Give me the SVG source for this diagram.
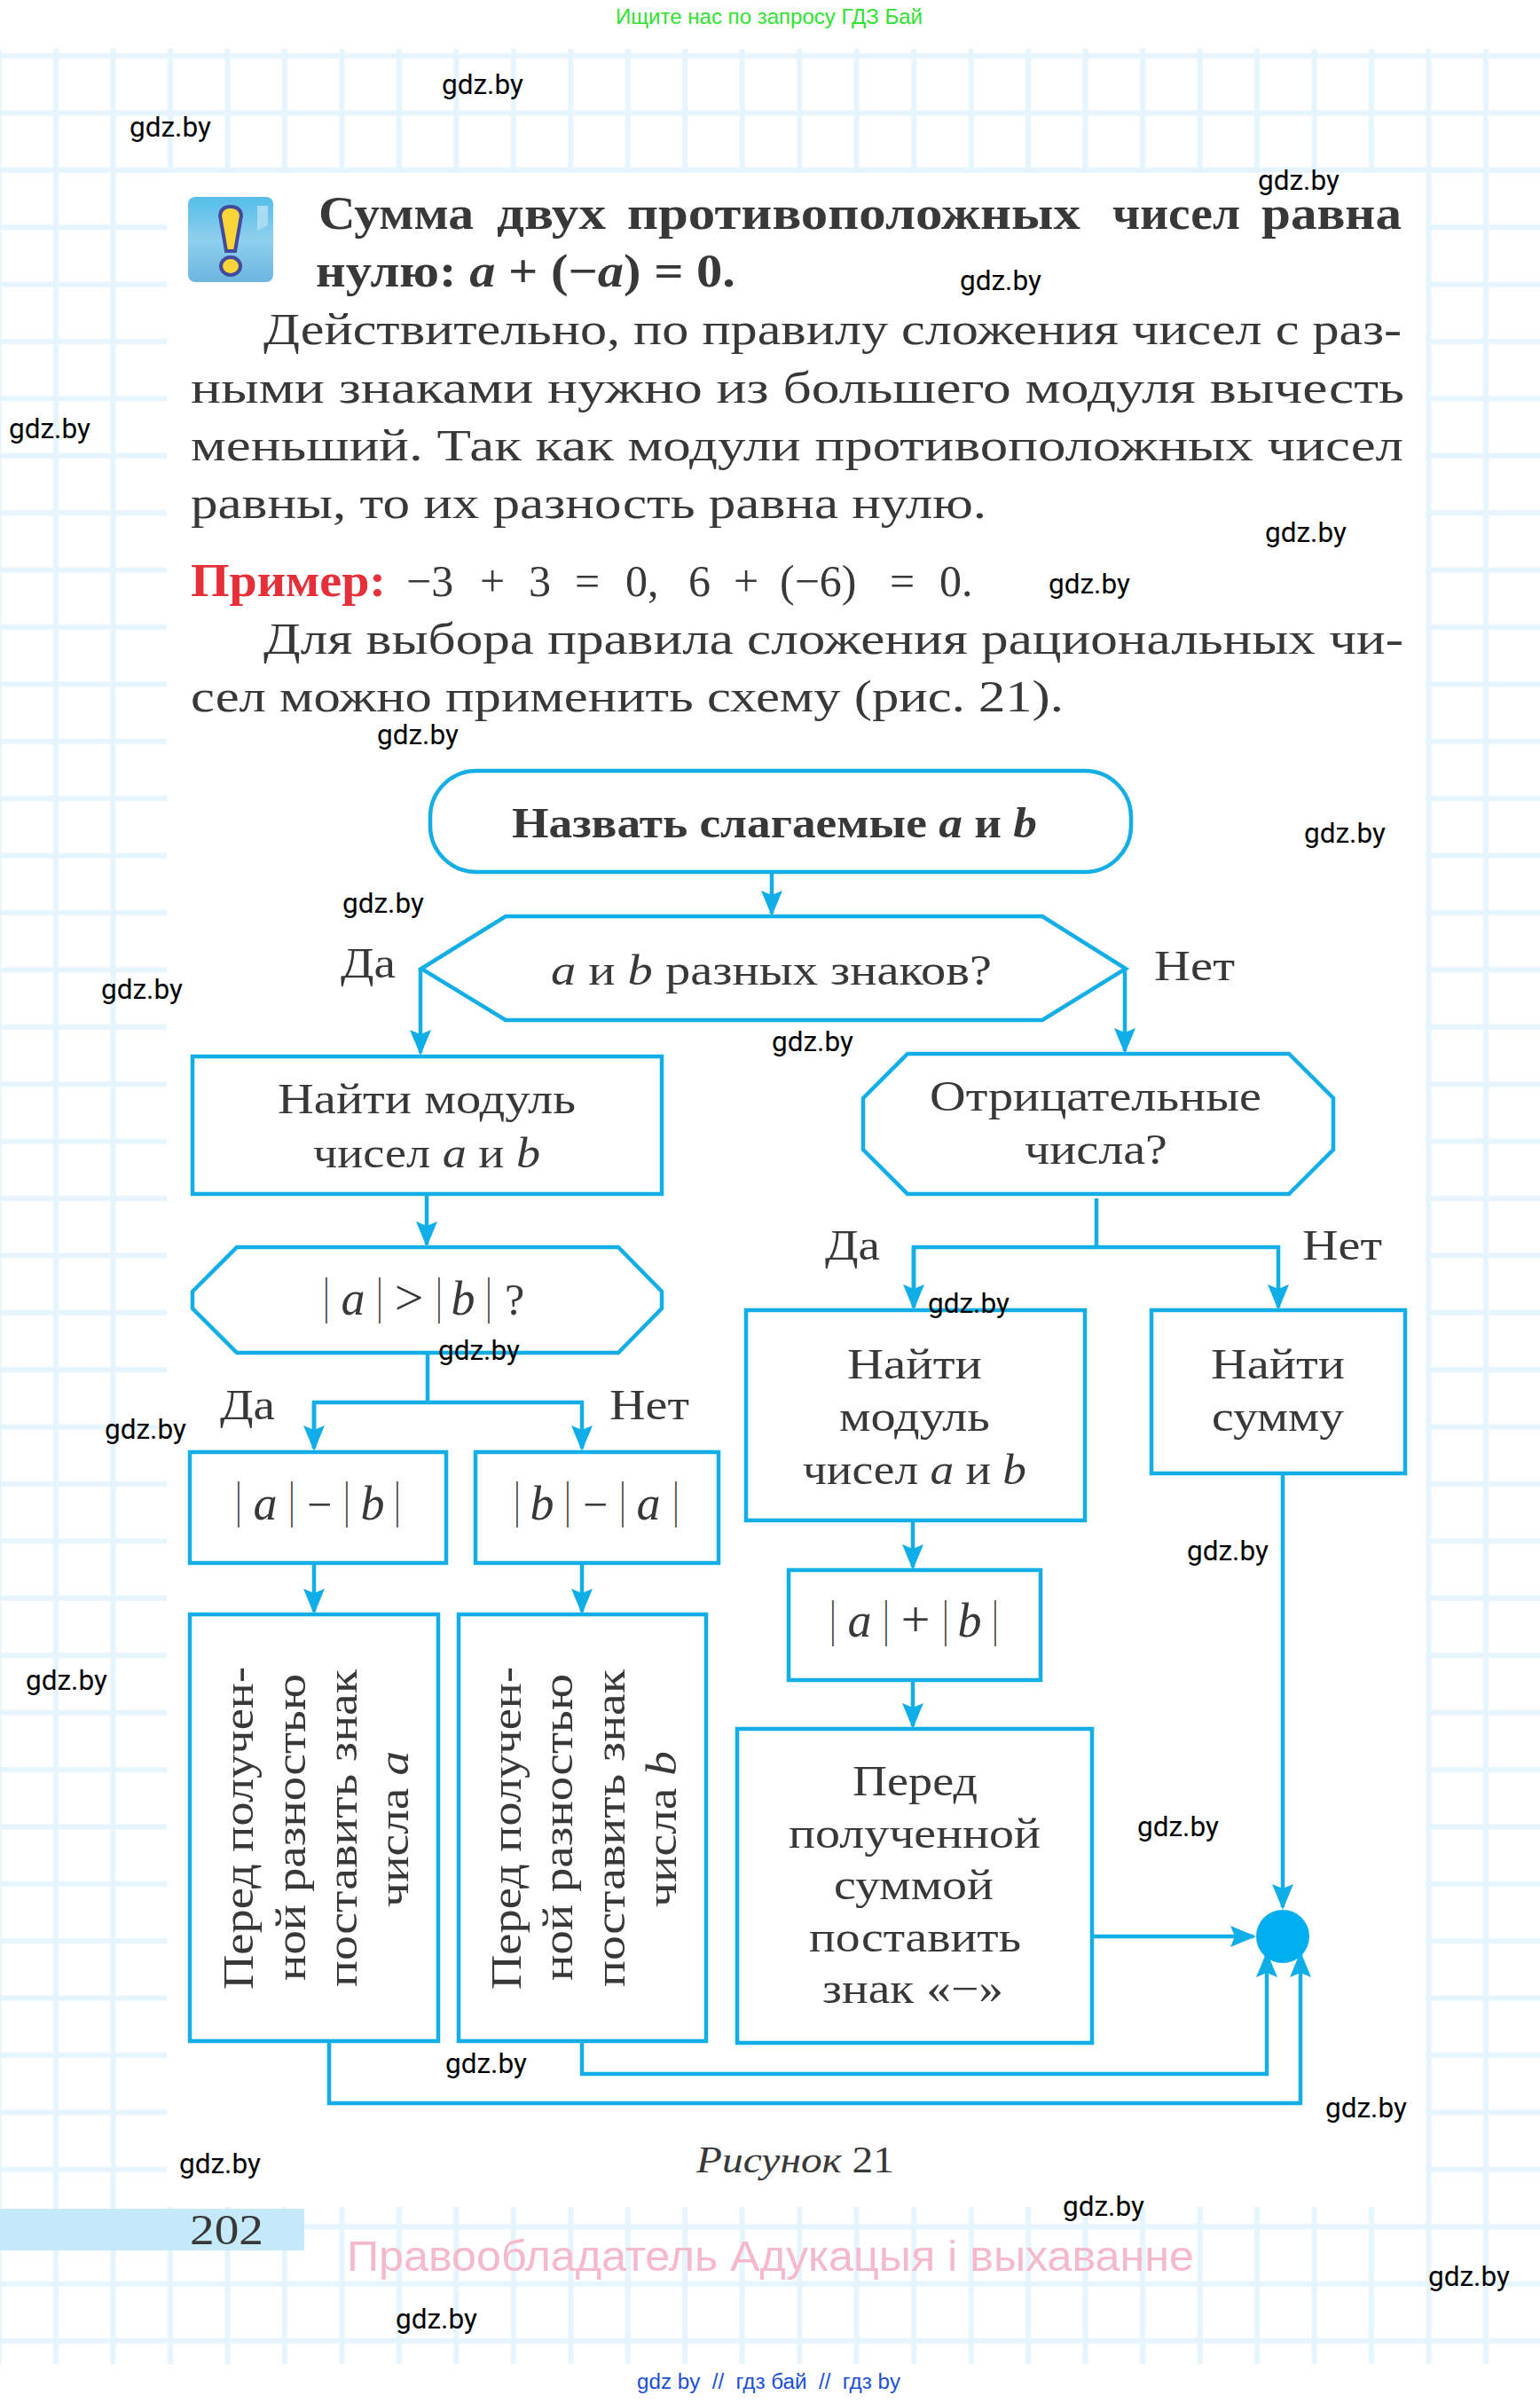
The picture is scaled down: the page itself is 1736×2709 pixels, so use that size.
<svg xmlns="http://www.w3.org/2000/svg" width="1736" height="2709" viewBox="0 0 1736 2709">
<style>
text{font-family:"Liberation Serif","Noto Sans CJK SC",serif;fill:#383838}
.b{font-size:50px}
.h{font-size:52px;font-weight:bold}
.t{font-size:48px}
.i{font-style:italic}
.m{font-size:54px;font-style:italic;text-anchor:middle}
.o{font-size:50px;text-anchor:middle}
.bar{font-size:58px;text-anchor:middle;opacity:.99;fill:#2c2c2c}
.w{font-family:Roboto,"Liberation Sans",sans-serif;font-size:31.5px;fill:#000}
.s{fill:#fff;stroke:#14aee6;stroke-width:4.5}
.c{fill:none;stroke:#14aee6;stroke-width:4.5;marker-end:url(#ah)}
.n{fill:none;stroke:#14aee6;stroke-width:4.5}
</style>
<defs>
<pattern id="grid" patternUnits="userSpaceOnUse" x="30.76" y="30.8" width="64.48" height="64.4">
<path d="M32.24 0V64.4M0 32.2H64.48" fill="none" stroke="#e5f4fd" stroke-width="6"/>
</pattern>
<marker id="ah" markerUnits="userSpaceOnUse" viewBox="-30 -14 36 28" refX="0" refY="0" markerWidth="36" markerHeight="28" orient="auto">
<path d="M3 0L-26 -12L-21 0L-26 12Z" fill="#10aee8"/>
</marker>
<linearGradient id="ic" x1="0" y1="0" x2="0" y2="1"><stop offset="0" stop-color="#55bde8"/><stop offset=".5" stop-color="#8ed0ee"/><stop offset="1" stop-color="#6db6e0"/></linearGradient>
</defs>
<rect width="1736" height="2709" fill="#fff"/>
<rect x="0" y="55" width="1736" height="2610" fill="url(#grid)"/>
<rect x="188" y="195" width="1419" height="2293" fill="#fff"/>
<rect x="0" y="2490" width="343" height="47" fill="#c6e9fa"/>

<g id="icon">
<rect x="212" y="222" width="96" height="96" rx="8" fill="url(#ic)"/>
<path d="M290 232h12v22l-12 6z" fill="#a9dcf3"/>
<path d="M248 243Q249 233 260 233Q271 233 272 243L265 283H255Z" fill="#f9d53a" stroke="#424a9c" stroke-width="4"/>
<ellipse cx="260" cy="300" rx="11" ry="10" fill="#f9d53a" stroke="#424a9c" stroke-width="4"/>
</g>

<g id="body-text">
<text class="h" y="258"><tspan x="359" textLength="175" lengthAdjust="spacingAndGlyphs">Сумма</tspan> <tspan x="560" textLength="123" lengthAdjust="spacingAndGlyphs">двух</tspan> <tspan x="707" textLength="511" lengthAdjust="spacingAndGlyphs">противоположных</tspan> <tspan x="1254" textLength="144" lengthAdjust="spacingAndGlyphs">чисел</tspan> <tspan x="1422" textLength="158" lengthAdjust="spacingAndGlyphs">равна</tspan></text>
<text class="h" x="356" y="323" textLength="473" lengthAdjust="spacingAndGlyphs">нулю: <tspan class="i">a</tspan> + (−<tspan class="i">a</tspan>) = 0.</text>
<text class="b" x="297" y="388" textLength="1283" lengthAdjust="spacingAndGlyphs">Действительно, по правилу сложения чисел с раз-</text>
<text class="b" x="215" y="454" textLength="1368" lengthAdjust="spacingAndGlyphs">ными знаками нужно из большего модуля вычесть</text>
<text class="b" x="215" y="519" textLength="1367" lengthAdjust="spacingAndGlyphs">меньший. Так как модули противоположных чисел</text>
<text class="b" x="215" y="584" textLength="897" lengthAdjust="spacingAndGlyphs">равны, то их разность равна нулю.</text>
<text class="h" x="215" y="672" textLength="220" lengthAdjust="spacingAndGlyphs" style="fill:#e5303a">Пример:</text>
<text class="b" y="672"><tspan x="458">−3</tspan> <tspan x="541">+</tspan> <tspan x="596">3</tspan> <tspan x="648">=</tspan> <tspan x="705">0,</tspan> <tspan x="776">6</tspan> <tspan x="827">+</tspan> <tspan x="879">(−6)</tspan> <tspan x="1003">=</tspan> <tspan x="1059">0.</tspan></text>
<text class="b" x="297" y="737" textLength="1285" lengthAdjust="spacingAndGlyphs">Для выбора правила сложения рациональных чи-</text>
<text class="b" x="215" y="802" textLength="984" lengthAdjust="spacingAndGlyphs">сел можно применить схему (рис. 21).</text>
</g>

<g id="connectors">
<path class="c" d="M870 983V1030"/>
<path class="c" d="M474 1092V1187"/>
<path class="c" d="M1268 1092V1185"/>
<path class="c" d="M481 1346V1403"/>
<path class="n" d="M482 1525V1581"/>
<path class="c" d="M354 1633V1581H656V1633"/>
<path class="c" d="M354 1581V1633"/>
<path class="c" d="M354 1762V1817"/>
<path class="c" d="M656 1762V1817"/>
<path class="n" d="M1236 1351V1406"/>
<path class="c" d="M1030 1474V1406H1441V1474"/>
<path class="c" d="M1030 1406V1474"/>
<path class="c" d="M1029 1714V1767"/>
<path class="c" d="M1029 1894V1946"/>
<path class="c" d="M1446 1661V2150"/>
<path class="c" d="M1231 2183H1413"/>
<path class="c" d="M656 2301V2338H1428V2203"/>
<path class="c" d="M371 2301V2371H1466V2203"/>
</g>

<g id="node-start">
<rect class="s" x="485" y="869" width="790" height="114" rx="52"/>
<text class="h" x="577" y="944" textLength="592" lengthAdjust="spacingAndGlyphs" style="font-size:48px">Назвать слагаемые <tspan class="i">a</tspan> и <tspan class="i">b</tspan></text>
</g>
<g id="node-signs">
<path class="s" d="M475 1092L570 1033H1175L1269 1092L1175 1150H570Z"/>
<text class="t" x="621" y="1110" textLength="497" lengthAdjust="spacingAndGlyphs"><tspan class="i">a</tspan> и <tspan class="i">b</tspan> разных знаков?</text>
</g>
<g id="node-modulus-left">
<rect class="s" x="217" y="1191" width="529" height="155"/>
<text class="t" x="313" y="1255" textLength="336" lengthAdjust="spacingAndGlyphs">Найти модуль</text>
<text class="t" x="353" y="1316" textLength="256" lengthAdjust="spacingAndGlyphs">чисел <tspan class="i">a</tspan> и <tspan class="i">b</tspan></text>
</g>
<g id="node-compare">
<path class="s" d="M217 1456L267 1406H697L746 1456V1475L697 1525H267L217 1475Z"/>
<text class="bar" transform="translate(368 1480) scale(.5 1)">|</text>
<text class="m" x="398" y="1482">a</text>
<text class="bar" transform="translate(428 1480) scale(.5 1)">|</text>
<text class="o" x="461" y="1482" style="font-size:58px">&gt;</text>
<text class="bar" transform="translate(495 1480) scale(.5 1)">|</text>
<text class="m" x="522" y="1482">b</text>
<text class="bar" transform="translate(551 1480) scale(.5 1)">|</text>
<text class="o" x="580" y="1482">?</text>
</g>
<g id="node-a-minus-b">
<rect class="s" x="214" y="1637" width="289" height="125"/>
<text class="bar" transform="translate(269 1710) scale(.5 1)">|</text>
<text class="m" x="299" y="1713">a</text>
<text class="bar" transform="translate(329 1710) scale(.5 1)">|</text>
<text class="o" x="360" y="1713">−</text>
<text class="bar" transform="translate(391 1710) scale(.5 1)">|</text>
<text class="m" x="420" y="1713">b</text>
<text class="bar" transform="translate(448 1710) scale(.5 1)">|</text>
</g>
<g id="node-b-minus-a">
<rect class="s" x="536" y="1637" width="274" height="125"/>
<text class="bar" transform="translate(583 1710) scale(.5 1)">|</text>
<text class="m" x="611" y="1713">b</text>
<text class="bar" transform="translate(640 1710) scale(.5 1)">|</text>
<text class="o" x="671" y="1713">−</text>
<text class="bar" transform="translate(702 1710) scale(.5 1)">|</text>
<text class="m" x="731" y="1713">a</text>
<text class="bar" transform="translate(762 1710) scale(.5 1)">|</text>
</g>
<g id="node-sign-a">
<rect class="s" x="214" y="1820" width="280" height="481"/>
<text class="t" transform="translate(285 2243) rotate(-90)" textLength="364" lengthAdjust="spacingAndGlyphs">Перед получен-</text>
<text class="t" transform="translate(344 2233) rotate(-90)" textLength="346" lengthAdjust="spacingAndGlyphs">ной разностью</text>
<text class="t" transform="translate(402 2240) rotate(-90)" textLength="358" lengthAdjust="spacingAndGlyphs">поставить знак</text>
<text class="t" transform="translate(460 2150) rotate(-90)" textLength="176" lengthAdjust="spacingAndGlyphs">числа <tspan class="i">a</tspan></text>
</g>
<g id="node-sign-b">
<rect class="s" x="517" y="1820" width="279" height="481"/>
<text class="t" transform="translate(587 2243) rotate(-90)" textLength="364" lengthAdjust="spacingAndGlyphs">Перед получен-</text>
<text class="t" transform="translate(645 2233) rotate(-90)" textLength="346" lengthAdjust="spacingAndGlyphs">ной разностью</text>
<text class="t" transform="translate(704 2240) rotate(-90)" textLength="358" lengthAdjust="spacingAndGlyphs">поставить знак</text>
<text class="t" transform="translate(762 2150) rotate(-90)" textLength="176" lengthAdjust="spacingAndGlyphs">числа <tspan class="i">b</tspan></text>
</g>
<g id="node-negative">
<path class="s" d="M973 1238L1023 1188H1453L1503 1238V1296L1453 1346H1023L973 1296Z"/>
<text class="t" x="1048" y="1252" textLength="374" lengthAdjust="spacingAndGlyphs">Отрицательные</text>
<text class="t" x="1155" y="1312" textLength="161" lengthAdjust="spacingAndGlyphs">числа?</text>
</g>
<g id="node-modulus-right">
<rect class="s" x="841" y="1477" width="382" height="237"/>
<text class="t" x="955" y="1554" textLength="152" lengthAdjust="spacingAndGlyphs">Найти</text>
<text class="t" x="946" y="1613" textLength="170" lengthAdjust="spacingAndGlyphs">модуль</text>
<text class="t" x="905" y="1673" textLength="252" lengthAdjust="spacingAndGlyphs">чисел <tspan class="i">a</tspan> и <tspan class="i">b</tspan></text>
</g>
<g id="node-sum">
<rect class="s" x="1298" y="1477" width="286" height="184"/>
<text class="t" x="1365" y="1554" textLength="151" lengthAdjust="spacingAndGlyphs">Найти</text>
<text class="t" x="1366" y="1613" textLength="149" lengthAdjust="spacingAndGlyphs">сумму</text>
</g>
<g id="node-a-plus-b">
<rect class="s" x="889" y="1770" width="284" height="124"/>
<text class="bar" transform="translate(939 1844) scale(.5 1)">|</text>
<text class="m" x="969" y="1845">a</text>
<text class="bar" transform="translate(999 1844) scale(.5 1)">|</text>
<text class="o" x="1032" y="1845" style="font-size:58px">+</text>
<text class="bar" transform="translate(1066 1844) scale(.5 1)">|</text>
<text class="m" x="1093" y="1845">b</text>
<text class="bar" transform="translate(1122 1844) scale(.5 1)">|</text>
</g>
<g id="node-minus-sign">
<rect class="s" x="831" y="1949" width="400" height="354"/>
<text class="t" x="961" y="2024" textLength="141" lengthAdjust="spacingAndGlyphs">Перед</text>
<text class="t" x="889" y="2083" textLength="284" lengthAdjust="spacingAndGlyphs">полученной</text>
<text class="t" x="940" y="2141" textLength="180" lengthAdjust="spacingAndGlyphs">суммой</text>
<text class="t" x="912" y="2200" textLength="239" lengthAdjust="spacingAndGlyphs">поставить</text>
<text class="t" x="927" y="2258" textLength="204" lengthAdjust="spacingAndGlyphs">знак «−»</text>
</g>
<g id="node-end">
<ellipse cx="1446" cy="2183" rx="30" ry="30" fill="#00aeef"/>
</g>

<g id="branch-labels">
<text class="t" x="384" y="1102" textLength="62" lengthAdjust="spacingAndGlyphs">Да</text>
<text class="t" x="1301" y="1105" textLength="91" lengthAdjust="spacingAndGlyphs">Нет</text>
<text class="t" x="248" y="1600" textLength="62" lengthAdjust="spacingAndGlyphs">Да</text>
<text class="t" x="687" y="1600" textLength="90" lengthAdjust="spacingAndGlyphs">Нет</text>
<text class="t" x="930" y="1420" textLength="62" lengthAdjust="spacingAndGlyphs">Да</text>
<text class="t" x="1468" y="1420" textLength="90" lengthAdjust="spacingAndGlyphs">Нет</text>
</g>

<g id="page-text">
<text x="785" y="2449" textLength="223" lengthAdjust="spacingAndGlyphs" style="font-size:42px"><tspan class="i">Рисунок</tspan> 21</text>
<text x="214" y="2530" textLength="83" lengthAdjust="spacingAndGlyphs" style="font-size:48px">202</text>
<text x="391" y="2560" textLength="955" lengthAdjust="spacingAndGlyphs" style="font-family:'Liberation Sans',sans-serif;font-size:48px;fill:#f5b9cb">Правообладатель Адукацыя і выхаванне</text>
<text x="694" y="27" textLength="346" lengthAdjust="spacingAndGlyphs" style="font-family:'Liberation Sans',sans-serif;font-size:24px;fill:#2fe22f">Ищите нас по запросу ГДЗ Бай</text>
<text x="718" y="2693" textLength="297" lengthAdjust="spacingAndGlyphs" xml:space="preserve" style="font-family:'Liberation Sans',sans-serif;font-size:23px;fill:#1b4fd8">gdz by  //  гдз бай  //  гдз by</text>
</g>

<g id="watermarks">
<text class="w" x="498" y="106">gdz.by</text>
<text class="w" x="146" y="154">gdz.by</text>
<text class="w" x="1418" y="214">gdz.by</text>
<text class="w" x="1082" y="327">gdz.by</text>
<text class="w" x="10" y="494">gdz.by</text>
<text class="w" x="1426" y="611">gdz.by</text>
<text class="w" x="1182" y="669">gdz.by</text>
<text class="w" x="425" y="839">gdz.by</text>
<text class="w" x="1470" y="950">gdz.by</text>
<text class="w" x="386" y="1029">gdz.by</text>
<text class="w" x="114" y="1126">gdz.by</text>
<text class="w" x="870" y="1185">gdz.by</text>
<text class="w" x="1046" y="1480">gdz.by</text>
<text class="w" x="494" y="1533">gdz.by</text>
<text class="w" x="118" y="1622">gdz.by</text>
<text class="w" x="1338" y="1759">gdz.by</text>
<text class="w" x="29" y="1905">gdz.by</text>
<text class="w" x="1282" y="2070">gdz.by</text>
<text class="w" x="502" y="2337">gdz.by</text>
<text class="w" x="1494" y="2387">gdz.by</text>
<text class="w" x="202" y="2450">gdz.by</text>
<text class="w" x="1198" y="2498">gdz.by</text>
<text class="w" x="1610" y="2577">gdz.by</text>
<text class="w" x="446" y="2625">gdz.by</text>
</g>
</svg>
